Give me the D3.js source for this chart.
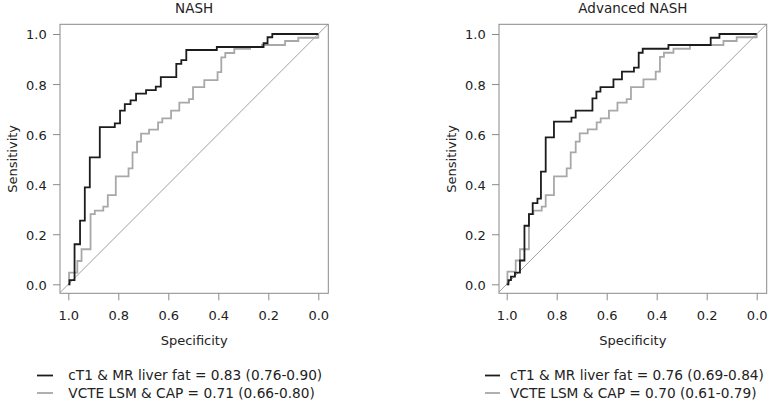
<!DOCTYPE html>
<html>
<head>
<meta charset="utf-8">
<script src="https://cdn.jsdelivr.net/npm/d3@7/dist/d3.min.js"></script>
<style>
  html, body { margin: 0; padding: 0; background: #fff; }
  svg { display: block; }
  text { font-family: "DejaVu Sans", Verdana, sans-serif; fill: #222; }
</style>
</head>
<body>
<svg id="chart" width="780" height="407"></svg>
<script>
// ---------------- DATA ----------------
const panelTitles = ["NASH", "Advanced NASH"];
const tickValues = [1.0, 0.8, 0.6, 0.4, 0.2, 0.0];
const xAxisTitle = "Specificity";
const yAxisTitle = "Sensitivity";
const seriesNames = ["cT1 & MR liver fat", "VCTE LSM & CAP"];
const legendNASH = ["cT1 & MR liver fat = 0.83 (0.76-0.90)", "VCTE LSM & CAP = 0.71 (0.66-0.80)"];
const legendAdvanced = ["cT1 & MR liver fat = 0.76 (0.69-0.84)", "VCTE LSM & CAP = 0.70 (0.61-0.79)"];

// NASH – cT1 & MR liver fat (step vertices: specificity, sensitivity)
const nashCt1Spec = [1, 0.995, 0.975, 0.953, 0.934, 0.914, 0.874, 0.814, 0.793, 0.774, 0.751, 0.729, 0.689, 0.650, 0.630, 0.568, 0.548, 0.528, 0.406, 0.219, 0.203, 0.184, 0];
const nashCt1Sens = [0, 0.017, 0.160, 0.254, 0.387, 0.507, 0.628, 0.643, 0.694, 0.720, 0.735, 0.762, 0.776, 0.790, 0.828, 0.881, 0.896, 0.936, 0.948, 0.963, 0.987, 1.000, 1.000];

// NASH – VCTE LSM & CAP
const nashVcteSpec = [1, 0.997, 0.964, 0.947, 0.911, 0.894, 0.860, 0.842, 0.810, 0.759, 0.743, 0.725, 0.709, 0.677, 0.641, 0.624, 0.589, 0.556, 0.517, 0.501, 0.456, 0.403, 0.388, 0.372, 0.336, 0.273, 0.225, 0.133, 0.080, 0];
const nashVcteSens = [0, 0.047, 0.093, 0.140, 0.280, 0.294, 0.310, 0.356, 0.431, 0.463, 0.527, 0.570, 0.602, 0.618, 0.647, 0.663, 0.694, 0.726, 0.740, 0.788, 0.816, 0.848, 0.907, 0.924, 0.941, 0.948, 0.956, 0.972, 0.985, 1.000];

// Advanced NASH – cT1 & MR liver fat
const advCt1Spec = [1, 0.993, 0.983, 0.967, 0.947, 0.929, 0.911, 0.896, 0.877, 0.863, 0.844, 0.811, 0.741, 0.724, 0.657, 0.641, 0.625, 0.573, 0.539, 0.491, 0.472, 0.456, 0.353, 0.184, 0.149, 0];
const advCt1Sens = [0, 0.017, 0.031, 0.047, 0.095, 0.234, 0.280, 0.324, 0.342, 0.450, 0.587, 0.650, 0.666, 0.694, 0.743, 0.770, 0.788, 0.819, 0.850, 0.866, 0.925, 0.941, 0.956, 0.985, 1.000, 1.000];

// Advanced NASH – VCTE LSM & CAP
const advVcteSpec = [1, 0.997, 0.964, 0.947, 0.911, 0.893, 0.860, 0.844, 0.811, 0.760, 0.744, 0.724, 0.708, 0.676, 0.640, 0.624, 0.591, 0.557, 0.520, 0.503, 0.453, 0.404, 0.387, 0.371, 0.333, 0.267, 0.133, 0.080, 0];
const advVcteSens = [0, 0.051, 0.095, 0.140, 0.280, 0.294, 0.310, 0.356, 0.431, 0.463, 0.527, 0.570, 0.603, 0.619, 0.647, 0.663, 0.694, 0.726, 0.740, 0.788, 0.819, 0.850, 0.909, 0.925, 0.941, 0.956, 0.972, 0.987, 1.000];

// ---------------- STYLE / LAYOUT ----------------
const colors = ["#1c1c1c", "#a8a8a8"];
const frameColor = "#8a8a8a";
const fontSize = 13;

const panels = [
  {
    title: panelTitles[0],
    box: { left: 60, right: 328.3, top: 24.3, bottom: 293.3 },
    xRange: [68.3, 318.3], yRange: [284.3, 34],
    ylabX: 12,
    legend: legendNASH, legLine: [37, 53], legText: 68.3,
    series: [[nashCt1Spec, nashCt1Sens], [nashVcteSpec, nashVcteSens]]
  },
  {
    title: panelTitles[1],
    box: { left: 499, right: 766.7, top: 24.3, bottom: 293.3 },
    xRange: [506.7, 756.7], yRange: [284.3, 34],
    ylabX: 451,
    legend: legendAdvanced, legLine: [485, 500], legText: 510,
    series: [[advCt1Spec, advCt1Sens], [advVcteSpec, advVcteSens]]
  }
];

const svg = d3.select("#chart");

panels.forEach((p, pi) => {
  const g = svg.append("g");
  const x = d3.scaleLinear().domain([1, 0]).range(p.xRange);
  const y = d3.scaleLinear().domain([0, 1]).range(p.yRange);
  const b = p.box;

  const clipId = "clip" + pi;
  g.append("clipPath").attr("id", clipId)
    .append("rect").attr("x", b.left).attr("y", b.top)
    .attr("width", b.right - b.left).attr("height", b.bottom - b.top);

  // diagonal reference line (sens = 1 - spec), across the whole box
  const s0 = x.invert(b.left), s1 = x.invert(b.right);
  g.append("line")
    .attr("clip-path", `url(#${clipId})`)
    .attr("x1", x(s0)).attr("y1", y(1 - s0))
    .attr("x2", x(s1)).attr("y2", y(1 - s1))
    .attr("stroke", "#a0a0a0").attr("stroke-width", 1);

  // ROC curves (draw grey first, black on top)
  const line = d3.line().x(d => x(d[0])).y(d => y(d[1])).curve(d3.curveStepAfter);
  [1, 0].forEach(si => {
    const [spec, sens] = p.series[si];
    const pts = spec.map((s, i) => [s, sens[i]]);
    g.append("path").datum(pts)
      .attr("d", line)
      .attr("fill", "none")
      .attr("stroke", colors[si])
      .attr("stroke-width", 1.8)
      .attr("stroke-linejoin", "miter");
  });

  // frame
  g.append("rect")
    .attr("x", b.left).attr("y", b.top)
    .attr("width", b.right - b.left).attr("height", b.bottom - b.top)
    .attr("fill", "none").attr("stroke", frameColor).attr("stroke-width", 1);

  // axes
  const xAxis = d3.axisBottom(x).tickValues(tickValues).tickFormat(d3.format(".1f"))
    .tickSize(7).tickSizeOuter(0).tickPadding(10.5);
  const gx = g.append("g").attr("transform", `translate(0,${b.bottom})`).call(xAxis);
  const yAxis = d3.axisLeft(y).tickValues(tickValues.slice().reverse()).tickFormat(d3.format(".1f"))
    .tickSize(7).tickSizeOuter(0).tickPadding(6.3);
  const gy = g.append("g").attr("transform", `translate(${b.left},0)`).call(yAxis);
  [gx, gy].forEach(a => {
    a.select(".domain").remove();
    a.selectAll(".tick line").attr("stroke", frameColor);
    a.selectAll(".tick text").attr("fill", "#222")
      .style("font-family", '"DejaVu Sans", Verdana, sans-serif')
      .style("font-size", fontSize + "px");
  });
  gy.selectAll(".tick text").attr("dy", "0.38em");

  // titles
  const cx = (b.left + b.right) / 2;
  g.append("text").attr("x", cx).attr("y", 13.3)
    .attr("text-anchor", "middle").style("font-size", "13.5px").text(p.title);
  g.append("text").attr("x", cx).attr("y", 345)
    .attr("text-anchor", "middle").style("font-size", fontSize + "px").text(xAxisTitle);
  g.append("text")
    .attr("transform", `translate(${p.ylabX},${(b.top + b.bottom) / 2}) rotate(-90)`)
    .attr("text-anchor", "middle").attr("dy", "0.35em")
    .style("font-size", fontSize + "px").text(yAxisTitle);

  // legend
  const legY = [375.5, 393];
  p.legend.forEach((txt, i) => {
    g.append("line")
      .attr("x1", p.legLine[0]).attr("x2", p.legLine[1])
      .attr("y1", legY[i]).attr("y2", legY[i])
      .attr("stroke", colors[i]).attr("stroke-width", 1.8);
    g.append("text").attr("x", p.legText).attr("y", legY[i])
      .attr("dy", "0.36em")
      .style("font-size", "13.7px").text(txt);
  });
});
</script>
</body>
</html>
